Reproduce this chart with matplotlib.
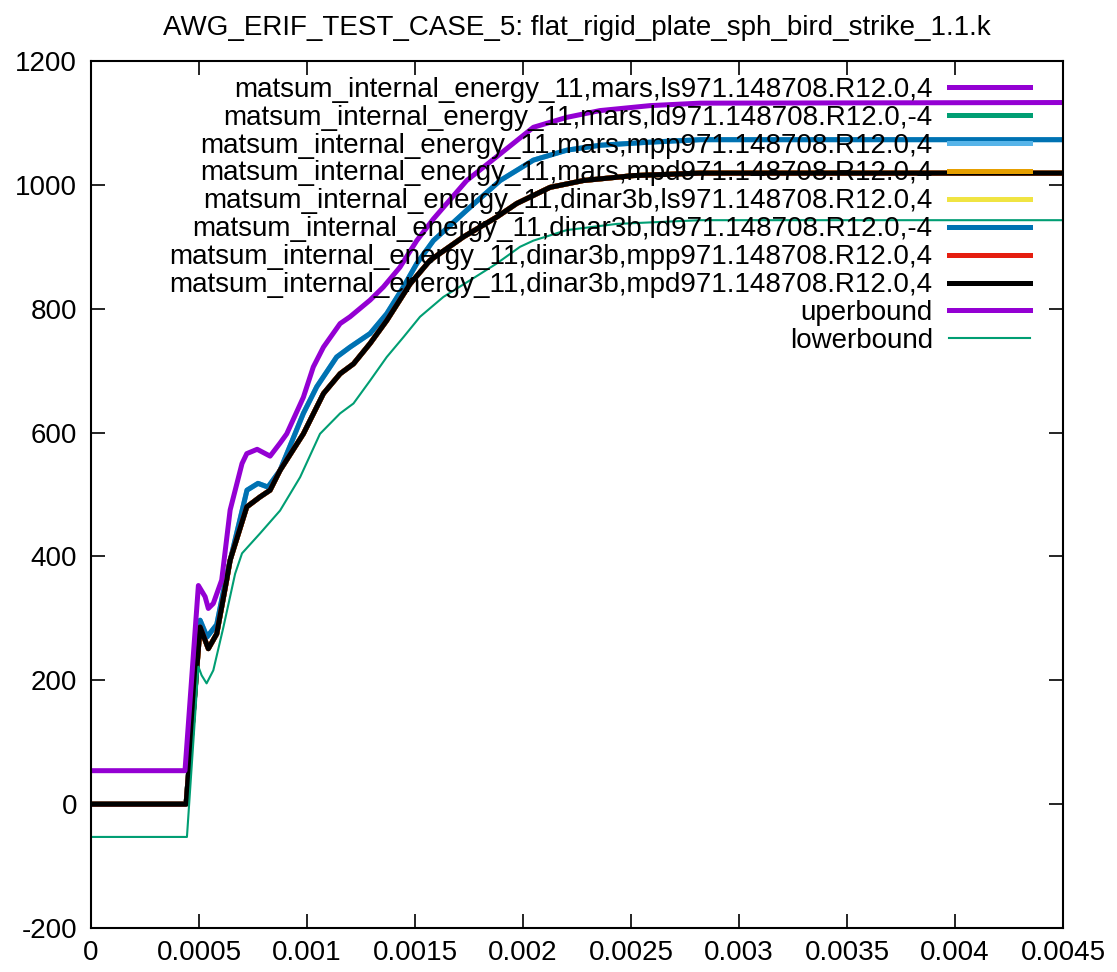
import matplotlib
matplotlib.use("Agg")
import matplotlib.pyplot as plt

plt.rcParams["font.family"] = ["Liberation Sans", "DejaVu Sans"]
plt.rcParams["axes.unicode_minus"] = False

TITLE = "AWG_ERIF_TEST_CASE_5: flat_rigid_plate_sph_bird_strike_1.1.k"

# black group (mpd / ls / mpp runs, all nearly on top of each other)
t_mid = [0.0, 0.00044, 0.000505, 0.000543, 0.000582, 0.000628, 0.000644, 0.000721,
         0.000782, 0.000829, 0.000875, 0.000983, 0.001076, 0.001153, 0.001215,
         0.001292, 0.001369, 0.001477, 0.001569, 0.001724, 0.001878, 0.001971,
         0.002125, 0.002279, 0.002511, 0.00282, 0.0045]
e_mid = [0, 0, 286, 251, 275, 362, 394, 480, 496, 507, 539, 598, 663, 695, 711,
         744, 781, 840, 878, 916, 948, 970, 996, 1007, 1015, 1019, 1019]

# blue group (dinar3b ld / mars mpp)
t_hi = [0.0, 0.00044, 0.000505, 0.000537, 0.000582, 0.000628, 0.000722, 0.000773,
        0.000819, 0.000875, 0.000983, 0.001045, 0.001137, 0.001199, 0.001292,
        0.001369, 0.001446, 0.001508, 0.001585, 0.001739, 0.001894, 0.002048,
        0.002202, 0.002356, 0.002588, 0.00282, 0.0045]
e_hi = [0, 0, 297, 270, 290, 370, 507, 518, 512, 539, 631, 674, 722, 738, 760,
        792, 835, 873, 910, 959, 1007, 1040, 1056, 1064, 1069, 1073, 1073]

t_up = [0.0, 0.000435, 0.000497, 0.000528, 0.000543, 0.000566, 0.000605, 0.000644,
        0.000699, 0.000721, 0.000769, 0.000829, 0.000875, 0.000906, 0.000983,
        0.001029, 0.001076, 0.001153, 0.001199, 0.001292, 0.001353, 0.00143,
        0.001508, 0.001585, 0.001739, 0.001894, 0.002048, 0.002202, 0.002356,
        0.002588, 0.00282, 0.0045]
e_up = [54, 54, 353, 335, 316, 324, 362, 475, 550, 566, 573, 562, 583, 598, 657,
        706, 738, 776, 787, 814, 835, 867, 910, 945, 1007, 1050, 1093, 1109, 1120,
        1128, 1132, 1133]

t_lo = [0.0, 0.000444, 0.000497, 0.000512, 0.000535, 0.000566, 0.000613, 0.000667,
        0.000699, 0.000782, 0.000875, 0.000968, 0.00106, 0.001153, 0.001215,
        0.001292, 0.001369, 0.001446, 0.001523, 0.001631, 0.001755, 0.001878,
        0.001986, 0.002048, 0.002202, 0.002434, 0.00282, 0.0045]
e_lo = [-53, -53, 222, 208, 195, 216, 286, 372, 405, 437, 474, 528, 598, 631, 647,
        684, 722, 754, 787, 819, 846, 873, 900, 910, 927, 937, 943, 943]

labels = [
    "matsum_internal_energy_11,mars,ls971.148708.R12.0,4",
    "matsum_internal_energy_11,mars,ld971.148708.R12.0,-4",
    "matsum_internal_energy_11,mars,mpp971.148708.R12.0,4",
    "matsum_internal_energy_11,mars,mpd971.148708.R12.0,4",
    "matsum_internal_energy_11,dinar3b,ls971.148708.R12.0,4",
    "matsum_internal_energy_11,dinar3b,ld971.148708.R12.0,-4",
    "matsum_internal_energy_11,dinar3b,mpp971.148708.R12.0,4",
    "matsum_internal_energy_11,dinar3b,mpd971.148708.R12.0,4",
    "uperbound",
    "lowerbound",
]
colors = ["#9400d3", "#009e73", "#56b4e9", "#e69f00", "#f0e442",
          "#0072b2", "#e51e10", "#000000", "#9400d3", "#009e73"]
series = [(t_mid, e_mid), (t_mid, e_mid), (t_hi, e_hi), (t_mid, e_mid), (t_mid, e_mid),
          (t_hi, e_hi), (t_mid, e_mid), (t_mid, e_mid), (t_up, e_up), (t_lo, e_lo)]
widths = [3.6] * 9 + [1.5]

fig = plt.figure(figsize=(11.17, 9.72), dpi=100)
ax = fig.add_axes([0.0815, 0.0453, 0.8702, 0.8919])

for (t, e), lab, c, w in zip(series, labels, colors, widths):
    ax.plot(t, e, color=c, lw=w, label=lab)

ax.set_xlim(0, 0.0045)
ax.set_ylim(-200, 1200)
ax.set_xticks([i * 0.0005 for i in range(10)])
ax.set_xticklabels(["0", "0.0005", "0.001", "0.0015", "0.002", "0.0025",
                    "0.003", "0.0035", "0.004", "0.0045"])
ax.set_yticks(range(-200, 1201, 200))
ax.tick_params(direction="in", length=10, width=1.2, top=True, right=True,
               labelsize=20)
ax.tick_params(axis="x", pad=9)
ax.tick_params(axis="y", pad=10)
for s in ax.spines.values():
    s.set_linewidth(1.5)

ax.set_title(TITLE, fontsize=20, pad=19)

ax.legend(loc="upper right", bbox_to_anchor=(0.966, 0.982), frameon=False,
          markerfirst=False, fontsize=20, handlelength=2.9, handletextpad=0.6,
          labelspacing=0.07, borderpad=0, borderaxespad=0)

fig.savefig("out.png", dpi=100)
